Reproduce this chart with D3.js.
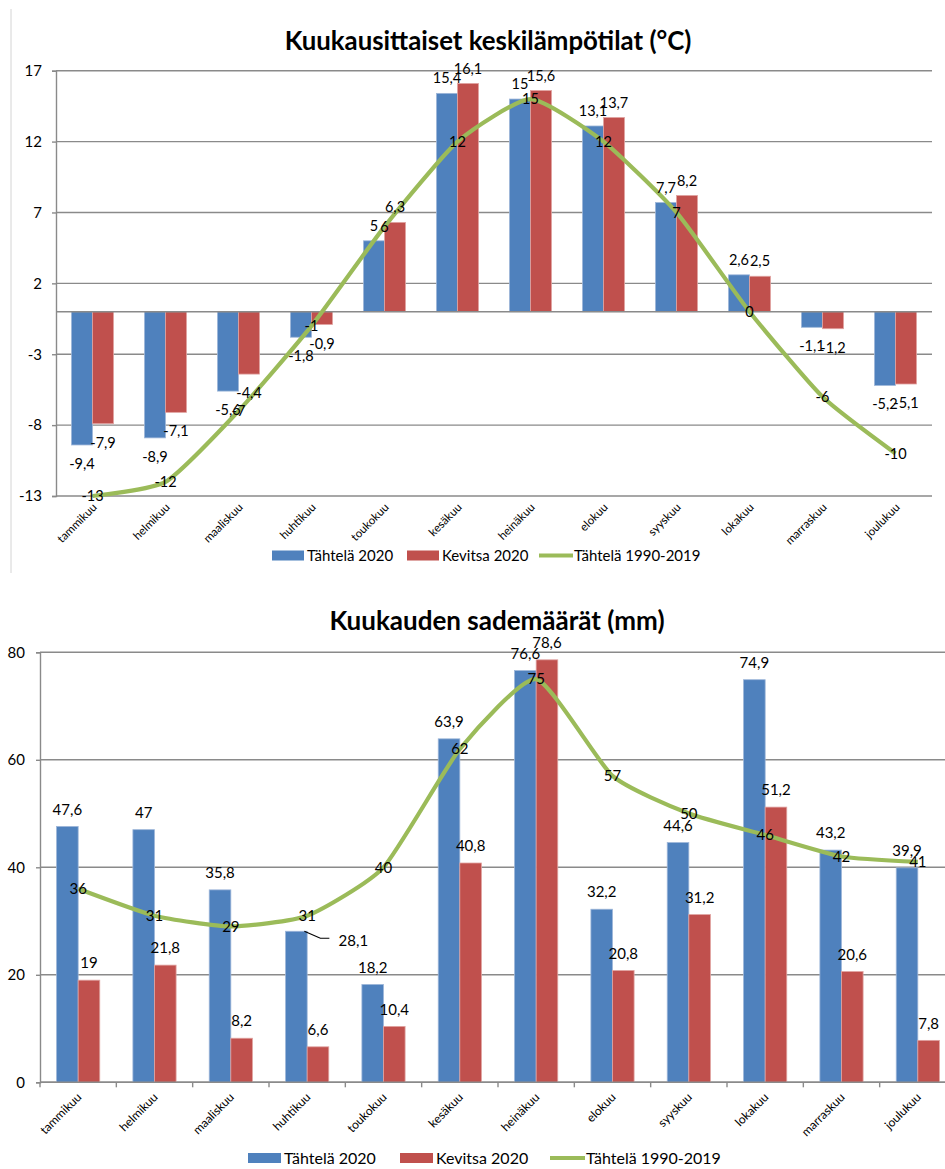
<!DOCTYPE html>
<html><head><meta charset="utf-8">
<script src="https://cdn.jsdelivr.net/npm/d3@7"></script>
<style>
html,body{margin:0;padding:0;background:#fff;}
svg{display:block;}
text{font-family:Lato,"Open Sans",sans-serif;fill:#000;}
</style></head>
<body>
<svg id="c" width="945" height="1169"></svg>
<script>
const months = ["tammikuu","helmikuu","maaliskuu","huhtikuu","toukokuu","kesäkuu","heinäkuu","elokuu","syyskuu","lokakuu","marraskuu","joulukuu"];
const seriesNames = ["Tähtelä 2020","Kevitsa 2020","Tähtelä 1990-2019"];
const tempTahtela2020 = [-9.4,-8.9,-5.6,-1.8,5,15.4,15,13.1,7.7,2.6,-1.1,-5.2];
const tempKevitsa2020 = [-7.9,-7.1,-4.4,-0.9,6.3,16.1,15.6,13.7,8.2,2.5,-1.2,-5.1];
const tempTahtelaAvg = [-13,-12,-7,-1,6,12,15,12,7,0,-6,-10];
const tempTicks = [-13,-8,-3,2,7,12,17];
const rainTahtela2020 = [47.6,47,35.8,28.1,18.2,63.9,76.6,32.2,44.6,74.9,43.2,39.9];
const rainKevitsa2020 = [19,21.8,8.2,6.6,10.4,40.8,78.6,20.8,31.2,51.2,20.6,7.8];
const rainTahtelaAvg = [36,31,29,31,40,62,75,57,50,46,42,41];
const rainTicks = [0,20,40,60,80];
const titles = ["Kuukausittaiset keskilämpötilat (°C)","Kuukauden sademäärät (mm)"];

const BLUE="#4F81BD", RED="#C0504D", GREEN="#9BBB59", GRID="#8a8a8a";
const svg = d3.select("#c");
const fmt = v => String(v).replace(".", ",");

// left frame line of top chart
svg.append("line").attr("x1",11).attr("x2",11).attr("y1",9).attr("y2",573).attr("stroke","#d4d4d4").attr("stroke-width",1);

function drawChart(cfg){
  const g = svg.append("g");
  const x0 = d3.scaleBand().domain(months).range([cfg.left,cfg.right]).padding(0);
  const bw = x0.bandwidth();
  const barW = bw*cfg.barFrac;
  const x1 = d3.scaleBand().domain([0,1]).range([bw/2-barW, bw/2+barW]).padding(0);
  const y = d3.scaleLinear().domain(cfg.domain).range([cfg.bottom,cfg.top]);

  // gridlines
  g.selectAll(".grid").data(cfg.ticks).join("line")
    .attr("x1",cfg.left).attr("x2",cfg.right)
    .attr("y1",d=>y(d)).attr("y2",d=>y(d))
    .attr("stroke",GRID).attr("stroke-width",1.4);
  // y axis
  const yAxis = d3.axisLeft(y).tickValues(cfg.ticks).tickSize(4).tickPadding(cfg.tickPad).tickFormat(d=>d);
  const ya = g.append("g").attr("transform",`translate(${cfg.left},0)`).call(yAxis);
  ya.select(".domain").attr("stroke",GRID).attr("stroke-width",1.4);
  ya.selectAll(".tick line").attr("stroke",GRID).attr("stroke-width",1.4);
  ya.selectAll(".tick text").attr("font-size",15).attr("font-family","Lato,sans-serif").attr("fill","#000");

  // bars
  const bars = [cfg.s1, cfg.s2];
  const cols = [BLUE, RED];
  const strokes = ["#9db6d9","#e0a3a1"];
  bars.forEach((arr,si)=>{
    g.selectAll(".bar"+si).data(arr).join("rect")
      .attr("x",(d,i)=>x0(months[i])+x1(si))
      .attr("width",x1.bandwidth())
      .attr("y",d=>Math.min(y(d),y(0)))
      .attr("height",d=>Math.abs(y(d)-y(0)))
      .attr("fill",cols[si]).attr("stroke",strokes[si]).attr("stroke-width",0.8);
  });
  // zero / category axis line
  g.append("line").attr("x1",cfg.left).attr("x2",cfg.right).attr("y1",y(0)).attr("y2",y(0))
    .attr("stroke",GRID).attr("stroke-width",1.4);
  if(cfg.catTicks){
    g.selectAll(".ct").data(d3.range(months.length+1)).join("line")
      .attr("x1",i=>cfg.left+i*bw).attr("x2",i=>cfg.left+i*bw)
      .attr("y1",y(0)).attr("y2",y(0)+5).attr("stroke",GRID).attr("stroke-width",1.4);
  }
  // category labels
  g.selectAll(".xl").data(months).join("text")
    .attr("transform",d=>`translate(${x0(d)+bw/2+cfg.xlabDx},${cfg.xlabY}) rotate(-45)`)
    .attr("text-anchor","end").attr("font-size",cfg.xlabSize).attr("font-family","'DejaVu Sans',sans-serif")
    .attr("fill","#222").text(d=>d);

  // line
  const pts = cfg.s3.map((v,i)=>[x0(months[i])+bw/2, y(v)]);
  g.append("path").attr("d",d3.line().curve(d3.curveCardinal.tension(0.45))(pts))
    .attr("fill","none").attr("stroke",GREEN).attr("stroke-width",4.2).attr("stroke-linejoin","round");

  // bar labels
  bars.forEach((arr,si)=>{
    g.selectAll(".bl"+si).data(arr).join("text")
      .attr("x",(d,i)=>{
        const o = cfg.labelOverride && cfg.labelOverride[si] && cfg.labelOverride[si][i];
        return x0(months[i])+x1(si)+x1.bandwidth()/2 + (o?o.dx:0);})
      .attr("y",(d,i)=>{
        const o = cfg.labelOverride && cfg.labelOverride[si] && cfg.labelOverride[si][i];
        const base = d>=0 ? y(d)-cfg.posOff : y(d)+cfg.negOff;
        return base + (o?o.dy:0);})
      .attr("dy","0.35em").attr("text-anchor","middle").attr("font-size",cfg.labSize).text(d=>fmt(d));
  });
  // line labels
  g.selectAll(".ll").data(cfg.s3).join("text")
    .attr("x",(d,i)=>pts[i][0]).attr("y",(d,i)=>pts[i][1])
    .attr("dy","0.35em").attr("text-anchor","middle").attr("font-size",cfg.labSize).text(d=>fmt(d));

  // title
  svg.append("text").attr("x",cfg.titleX).attr("y",cfg.titleY).attr("text-anchor","middle")
    .attr("font-weight","bold").attr("font-size",cfg.titleSize).text(cfg.title);

  // legend
  const L = cfg.legend;
  const lg = svg.append("g");
  lg.append("rect").attr("x",L.x[0]).attr("y",L.y-5).attr("width",L.rw).attr("height",10).attr("fill",BLUE);
  lg.append("text").attr("x",L.x[0]+L.rw+3).attr("y",L.y).attr("dy","0.35em").attr("font-size",L.size).text(seriesNames[0]);
  lg.append("rect").attr("x",L.x[1]).attr("y",L.y-5).attr("width",L.rw).attr("height",10).attr("fill",RED);
  lg.append("text").attr("x",L.x[1]+L.rw+3).attr("y",L.y).attr("dy","0.35em").attr("font-size",L.size).text(seriesNames[1]);
  lg.append("line").attr("x1",L.x[2]).attr("x2",L.x[2]+L.rw+2).attr("y1",L.y).attr("y2",L.y).attr("stroke",GREEN).attr("stroke-width",4.2);
  lg.append("text").attr("x",L.x[2]+L.rw+3).attr("y",L.y).attr("dy","0.35em").attr("font-size",L.size).text(seriesNames[2]);
  return {x0,x1,y,bw};
}

drawChart({
  left:56,right:932,top:70.7,bottom:496,domain:[-13,17],ticks:tempTicks,tickPad:10,
  barFrac:0.288,s1:tempTahtela2020,s2:tempKevitsa2020,s3:tempTahtelaAvg,
  posOff:15,negOff:19,labSize:14.5,xlabSize:11.5,xlabY:508,xlabDx:5,catTicks:false,
  title:titles[0],titleX:488,titleY:50,titleSize:25.8,
  legend:{x:[272,407,539],y:555.5,rw:32,size:15}
});

const b = drawChart({
  left:40,right:956,top:652.3,bottom:1082.3,domain:[0,80],ticks:rainTicks,tickPad:11,
  barFrac:0.283,s1:rainTahtela2020,s2:rainKevitsa2020,s3:rainTahtelaAvg,
  posOff:17,negOff:17,labSize:15,xlabSize:12,xlabY:1098,xlabDx:4,catTicks:true,
  title:titles[1],titleX:497,titleY:630,titleSize:26,
  legend:{x:[248,400,550],y:1158,rw:33,size:16},
  labelOverride:[{3:{dx:57,dy:26}}]
});
// leader line for the moved "28,1" label
(function(){
  const i = 3, v = rainTahtela2020[i];
  const bx = b.x0(months[i])+b.x1(0)+b.x1.bandwidth()/2+8, by = b.y(v);
  svg.append("path").attr("d",`M${bx},${by} L${bx+16},${by+7} L${bx+25},${by+7}`)
    .attr("fill","none").attr("stroke","#000").attr("stroke-width",1.2);
})();
</script>
</body></html>
